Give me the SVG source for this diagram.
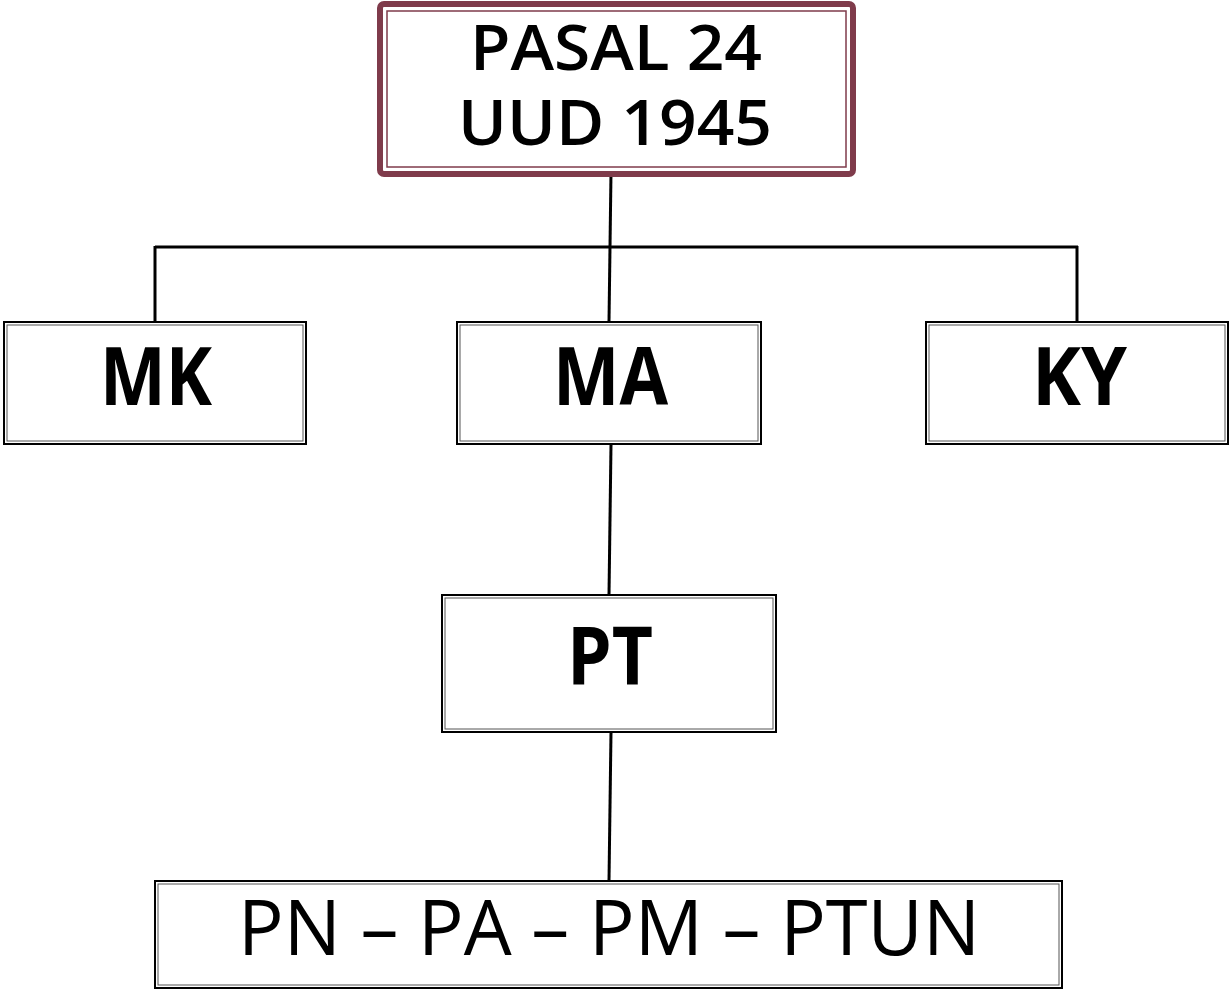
<svg xmlns="http://www.w3.org/2000/svg" width="1231" height="990" viewBox="0 0 1231 990">
  <style>
    .outer { fill: #fff; stroke: #000; stroke-width: 2; }
    .inner { fill: none; stroke: #555; stroke-width: 1; }
    .lbl { font-family: "Open Sans", "DejaVu Sans", sans-serif; fill: #000; text-anchor: middle; }
    .b { font-weight: bold; font-size: 80px; }
    .head { font-size: 64px; font-weight: 600; }
    .link { stroke: #000; stroke-width: 3; fill: none; }
  </style>
  <rect width="1231" height="990" fill="#fff"/>

  <g id="connectors">
    <line class="link" x1="611" y1="172" x2="609" y2="322"/>
    <line class="link" x1="155" y1="247" x2="1078" y2="247"/>
    <line class="link" x1="155" y1="246" x2="155" y2="322"/>
    <line class="link" x1="1077" y1="246" x2="1077" y2="322"/>
    <line class="link" x1="611" y1="444" x2="609" y2="595"/>
    <line class="link" x1="611" y1="732" x2="609" y2="881"/>
  </g>

  <g id="pasal24">
    <rect x="380" y="4" width="473" height="170" rx="4" fill="#fff" stroke="#7f3b4b" stroke-width="6"/>
    <rect x="387" y="11" width="459" height="156" fill="none" stroke="#7f3b4b" stroke-width="1.5"/>
    <text class="lbl head" x="616" y="70" textLength="292" lengthAdjust="spacingAndGlyphs">PASAL 24</text>
    <text class="lbl head" x="615" y="145" textLength="314" lengthAdjust="spacingAndGlyphs">UUD 1945</text>
  </g>

  <g id="mk">
    <rect class="outer" x="4" y="322" width="302" height="122"/>
    <rect class="inner" x="7" y="325" width="296" height="116"/>
    <text class="lbl b" x="156" y="405" textLength="112" lengthAdjust="spacingAndGlyphs">MK</text>
  </g>

  <g id="ma">
    <rect class="outer" x="457" y="322" width="304" height="122"/>
    <rect class="inner" x="460" y="325" width="298" height="116"/>
    <text class="lbl b" x="610.5" y="405" textLength="115" lengthAdjust="spacingAndGlyphs">MA</text>
  </g>

  <g id="ky">
    <rect class="outer" x="926" y="322" width="302" height="122"/>
    <rect class="inner" x="929" y="325" width="296" height="116"/>
    <text class="lbl b" x="1079.5" y="405" textLength="95" lengthAdjust="spacingAndGlyphs">KY</text>
  </g>

  <g id="pt">
    <rect class="outer" x="442" y="595" width="334" height="137"/>
    <rect class="inner" x="445" y="598" width="328" height="131"/>
    <text class="lbl b" x="610" y="685" textLength="86" lengthAdjust="spacingAndGlyphs">PT</text>
  </g>

  <g id="peradilan">
    <rect class="outer" x="155" y="881" width="907" height="107"/>
    <rect class="inner" x="158" y="884" width="901" height="101"/>
    <text class="lbl" x="609" y="955" font-size="76" textLength="742" lengthAdjust="spacingAndGlyphs">PN – PA – PM – PTUN</text>
  </g>
</svg>
